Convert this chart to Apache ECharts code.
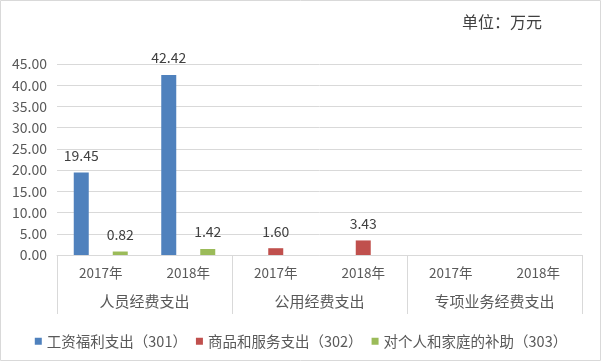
<!DOCTYPE html>
<html>
<head>
<meta charset="utf-8">
<script src="https://cdn.jsdelivr.net/npm/echarts@6/dist/echarts.min.js"></script>
<style>html,body{margin:0;padding:0;background:#fff}#c{width:602px;height:362px}</style>
</head>
<body>
<div id="c"></div>
<script>
var years = ['2017年', '2018年', '2017年', '2018年', '2017年', '2018年'];
var groups = ['人员经费支出', '公用经费支出', '专项业务经费支出'];
var seriesNames = ['工资福利支出（301）', '商品和服务支出（302）', '对个人和家庭的补助（303）'];
var s301 = [19.45, 42.42, null, null, null, null];
var s302 = [null, null, 1.60, 3.43, null, null];
var s303 = [0.82, 1.42, null, null, null, null];
var yTicks = [0, 5, 10, 15, 20, 25, 30, 35, 40, 45];

var FONT = '"Noto Sans CJK SC", "Noto Sans", sans-serif';
var colors = ['#4F81BD', '#C0504D', '#9BBB59'];
var chart = echarts.init(document.getElementById('c'), null, {renderer: 'canvas'});

function mk(name, data, color) {
  return {
    name: name, type: 'bar', data: data, xAxisIndex: 0,
    barWidth: 15, barGap: '30%',
    itemStyle: {color: color},
    label: {
      show: true, position: 'top', distance: 10,
      color: '#404040', fontSize: 14, fontFamily: FONT,
      formatter: function (p) { return p.value == null ? '' : Number(p.value).toFixed(2); }
    }
  };
}

chart.setOption({
  animation: false,
  textStyle: {fontFamily: FONT},
  graphic: [{
    type: 'rect', shape: {x: 0.5, y: 0.5, width: 600, height: 360},
    style: {fill: 'none', stroke: '#d9d9d9', lineWidth: 1}, silent: true
  }, {
    type: 'text', left: 462, top: 14,
    style: {text: '单位：万元', fontSize: 16, fill: '#404040', fontFamily: FONT}
  }],
  legend: {
    data: seriesNames, left: 'center', top: 329,
    itemWidth: 7, itemHeight: 7, itemGap: 9, icon: 'rect',
    textStyle: {fontSize: 14.5, color: '#595959', fontFamily: FONT}
  },
  grid: {left: 57, right: 20, top: 64, bottom: 107, containLabel: false},
  xAxis: [{
    type: 'category', data: years, position: 'bottom',
    axisLine: {show: true, lineStyle: {color: '#d9d9d9'}},
    axisTick: {show: false},
    axisLabel: {margin: 11, fontSize: 13.5, color: '#595959', fontFamily: FONT, interval: 0}
  }, {
    type: 'category', data: groups, position: 'bottom',
    axisLine: {show: false},
    axisTick: {show: true, length: 59, lineStyle: {color: '#d9d9d9'}},
    axisLabel: {margin: 39, fontSize: 15, color: '#595959', fontFamily: FONT, interval: 0}
  }],
  yAxis: {
    type: 'value', min: yTicks[0], max: yTicks[yTicks.length - 1], interval: 5,
    axisLine: {show: false}, axisTick: {show: false},
    splitLine: {lineStyle: {color: '#d9d9d9'}},
    axisLabel: {fontSize: 14, color: '#595959', margin: 10, fontFamily: FONT,
      formatter: function (v) { return v.toFixed(2); }}
  },
  series: [mk(seriesNames[0], s301, colors[0]), mk(seriesNames[1], s302, colors[1]), mk(seriesNames[2], s303, colors[2])]
});
</script>
</body>
</html>
